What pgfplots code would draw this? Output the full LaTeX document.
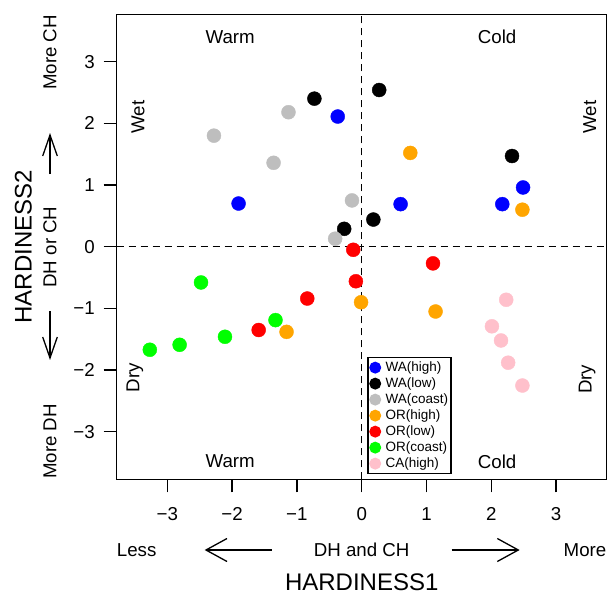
\documentclass[border=0pt]{standalone}
\usepackage{fontspec}
\setmainfont{Liberation Sans}
\usepackage{pgfplots}
\pgfplotsset{compat=1.18}
\definecolor{rgray}{RGB}{190,190,190}
\definecolor{rorange}{RGB}{255,165,0}
\definecolor{rgreen}{RGB}{0,255,0}
\definecolor{rpink}{RGB}{255,192,203}
\definecolor{rblue}{RGB}{0,0,255}
\definecolor{rred}{RGB}{255,0,0}
\newcommand{\fs}{\fontsize{18.7}{22}\selectfont}
\newcommand{\fl}{\fontsize{24}{28}\selectfont}
\newcommand{\fg}{\fontsize{13.5}{15}\selectfont}
\begin{document}
\begin{tikzpicture}
\useasboundingbox (0pt,0pt) rectangle (608pt,-594pt);
\begin{axis}[
  at={(116.7pt,-479.3pt)}, anchor=south west,
  scale only axis, width=490pt, height=465pt,
  xmin=-3.781, xmax=3.781, ymin=-3.77, ymax=3.767,
  clip=false,
  axis line style={line width=1.4pt},
  xtick={-3,-2,-1,0,1,2,3}, ytick={-3,-2,-1,0,1,2,3},
  xticklabels={−3,−2,−1,0,1,2,3},
  yticklabels={−3,−2,−1,0,1,2,3},
  xtick pos=bottom, ytick pos=left,
  tick align=outside, major tick length=13pt,
  tick style={line width=1.3pt, black},
  xticklabel style={font=\fs, anchor=center, inner sep=0pt, yshift=-21.5pt},
  yticklabel style={font=\fs, anchor=east, inner sep=0pt, xshift=-8.7pt},
  xlabel={HARDINESS1}, ylabel={HARDINESS2},
  xlabel style={font=\fl, at={(axis description cs:0.5,-0.2209)}, anchor=center},
  ylabel style={font=\fl, at={(axis description cs:-0.1906,0.5)}, anchor=center, rotate=0},
  legend style={at={(axis description cs:0.5114,0.0108)}, anchor=south west,
    draw=black, line width=1.3pt, font=\fg, inner xsep=2pt, inner ysep=2pt,
    row sep=0pt, cells={anchor=west},
    nodes={inner xsep=1pt, inner ysep=1.6pt, text height=9.8pt, text depth=3pt},
    /tikz/every odd column/.append style={column sep=4pt}},
  legend image code/.code={\draw[#1, mark size=5.3pt] plot coordinates {(0pt,0pt)};},
]
\addplot[only marks, mark=*, mark size=7pt, color=rblue] coordinates {
(-0.37,2.11) (-1.90,0.70) (0.60,0.69) (2.17,0.69) (2.49,0.96)};
\addlegendentry{WA(high)}
\addplot[only marks, mark=*, mark size=7pt, color=black] coordinates {
(-0.73,2.40) (-0.27,0.29) (0.27,2.54) (2.32,1.47) (0.18,0.44)};
\addlegendentry{WA(low)}
\addplot[only marks, mark=*, mark size=7pt, color=rgray] coordinates {
(-1.13,2.18) (-2.28,1.80) (-1.36,1.36) (-0.15,0.75) (-0.41,0.13)};
\addlegendentry{WA(coast)}
\addplot[only marks, mark=*, mark size=7pt, color=rorange] coordinates {
(0.75,1.52) (2.48,0.60) (-0.01,-0.90) (-1.16,-1.38) (1.14,-1.05)};
\addlegendentry{OR(high)}
\addplot[only marks, mark=*, mark size=7pt, color=rred] coordinates {
(-0.13,-0.05) (-0.09,-0.56) (-0.84,-0.84) (-1.59,-1.35) (1.10,-0.27)};
\addlegendentry{OR(low)}
\addplot[only marks, mark=*, mark size=7pt, color=rgreen] coordinates {
(-2.48,-0.58) (-1.33,-1.19) (-2.11,-1.46) (-2.81,-1.59) (-3.27,-1.67)};
\addlegendentry{OR(coast)}
\addplot[only marks, mark=*, mark size=7pt, color=rpink] coordinates {
(2.23,-0.86) (2.01,-1.29) (2.15,-1.52) (2.26,-1.88) (2.48,-2.25)};
\addlegendentry{CA(high)}
\draw[line width=1.4pt, dash pattern=on 7pt off 5pt] (axis cs:0,-3.77) -- (axis cs:0,3.767);
\draw[line width=1.4pt, dash pattern=on 7pt off 5pt] (axis cs:-3.781,0) -- (axis cs:3.781,0);
\node[font=\fs] at (axis cs:-2.03,3.40) {Warm};
\node[font=\fs] at (axis cs:2.09,3.40) {Cold};
\node[font=\fs] at (axis cs:-2.03,-3.48) {Warm};
\node[font=\fs] at (axis cs:2.09,-3.48) {Cold};
\node[font=\fs, rotate=90] at (axis cs:-3.45,2.10) {Wet};
\node[font=\fs, rotate=90] at (axis cs:3.52,2.10) {Wet};
\node[font=\fs, rotate=90] at (axis cs:-3.50,-2.12) {Dry};
\node[font=\fs, rotate=90] at (axis cs:3.48,-2.15) {Dry};
\end{axis}
% outer annotations (image pixel coordinates)
\node[font=\fs] at (136.7pt,-550pt) {Less};
\node[font=\fs] at (361.7pt,-550pt) {DH and CH};
\node[font=\fs] at (585pt,-550pt) {More};
\draw[line width=1.3pt] (271.7pt,-550pt) -- (206pt,-550pt);
\draw[line width=1.3pt] (227pt,-538.5pt) -- (206pt,-550pt) -- (227pt,-561.5pt);
\draw[line width=1.3pt] (451.7pt,-550pt) -- (518.3pt,-550pt);
\draw[line width=1.3pt] (497.3pt,-538.5pt) -- (518.3pt,-550pt) -- (497.3pt,-561.5pt);
\node[font=\fs, rotate=90] at (50pt,-52.5pt) {More CH};
\node[font=\fs, rotate=90] at (50pt,-247pt) {DH or CH};
\node[font=\fs, rotate=90] at (50pt,-441.5pt) {More DH};
\draw[line width=1.3pt] (50pt,-174pt) -- (50pt,-135pt);
\draw[line width=1.3pt] (42.7pt,-156pt) -- (50pt,-135pt) -- (57.3pt,-156pt);
\draw[line width=1.3pt] (50pt,-311pt) -- (50pt,-358pt);
\draw[line width=1.3pt] (42.7pt,-337pt) -- (50pt,-358pt) -- (57.3pt,-337pt);
\end{tikzpicture}
\end{document}
